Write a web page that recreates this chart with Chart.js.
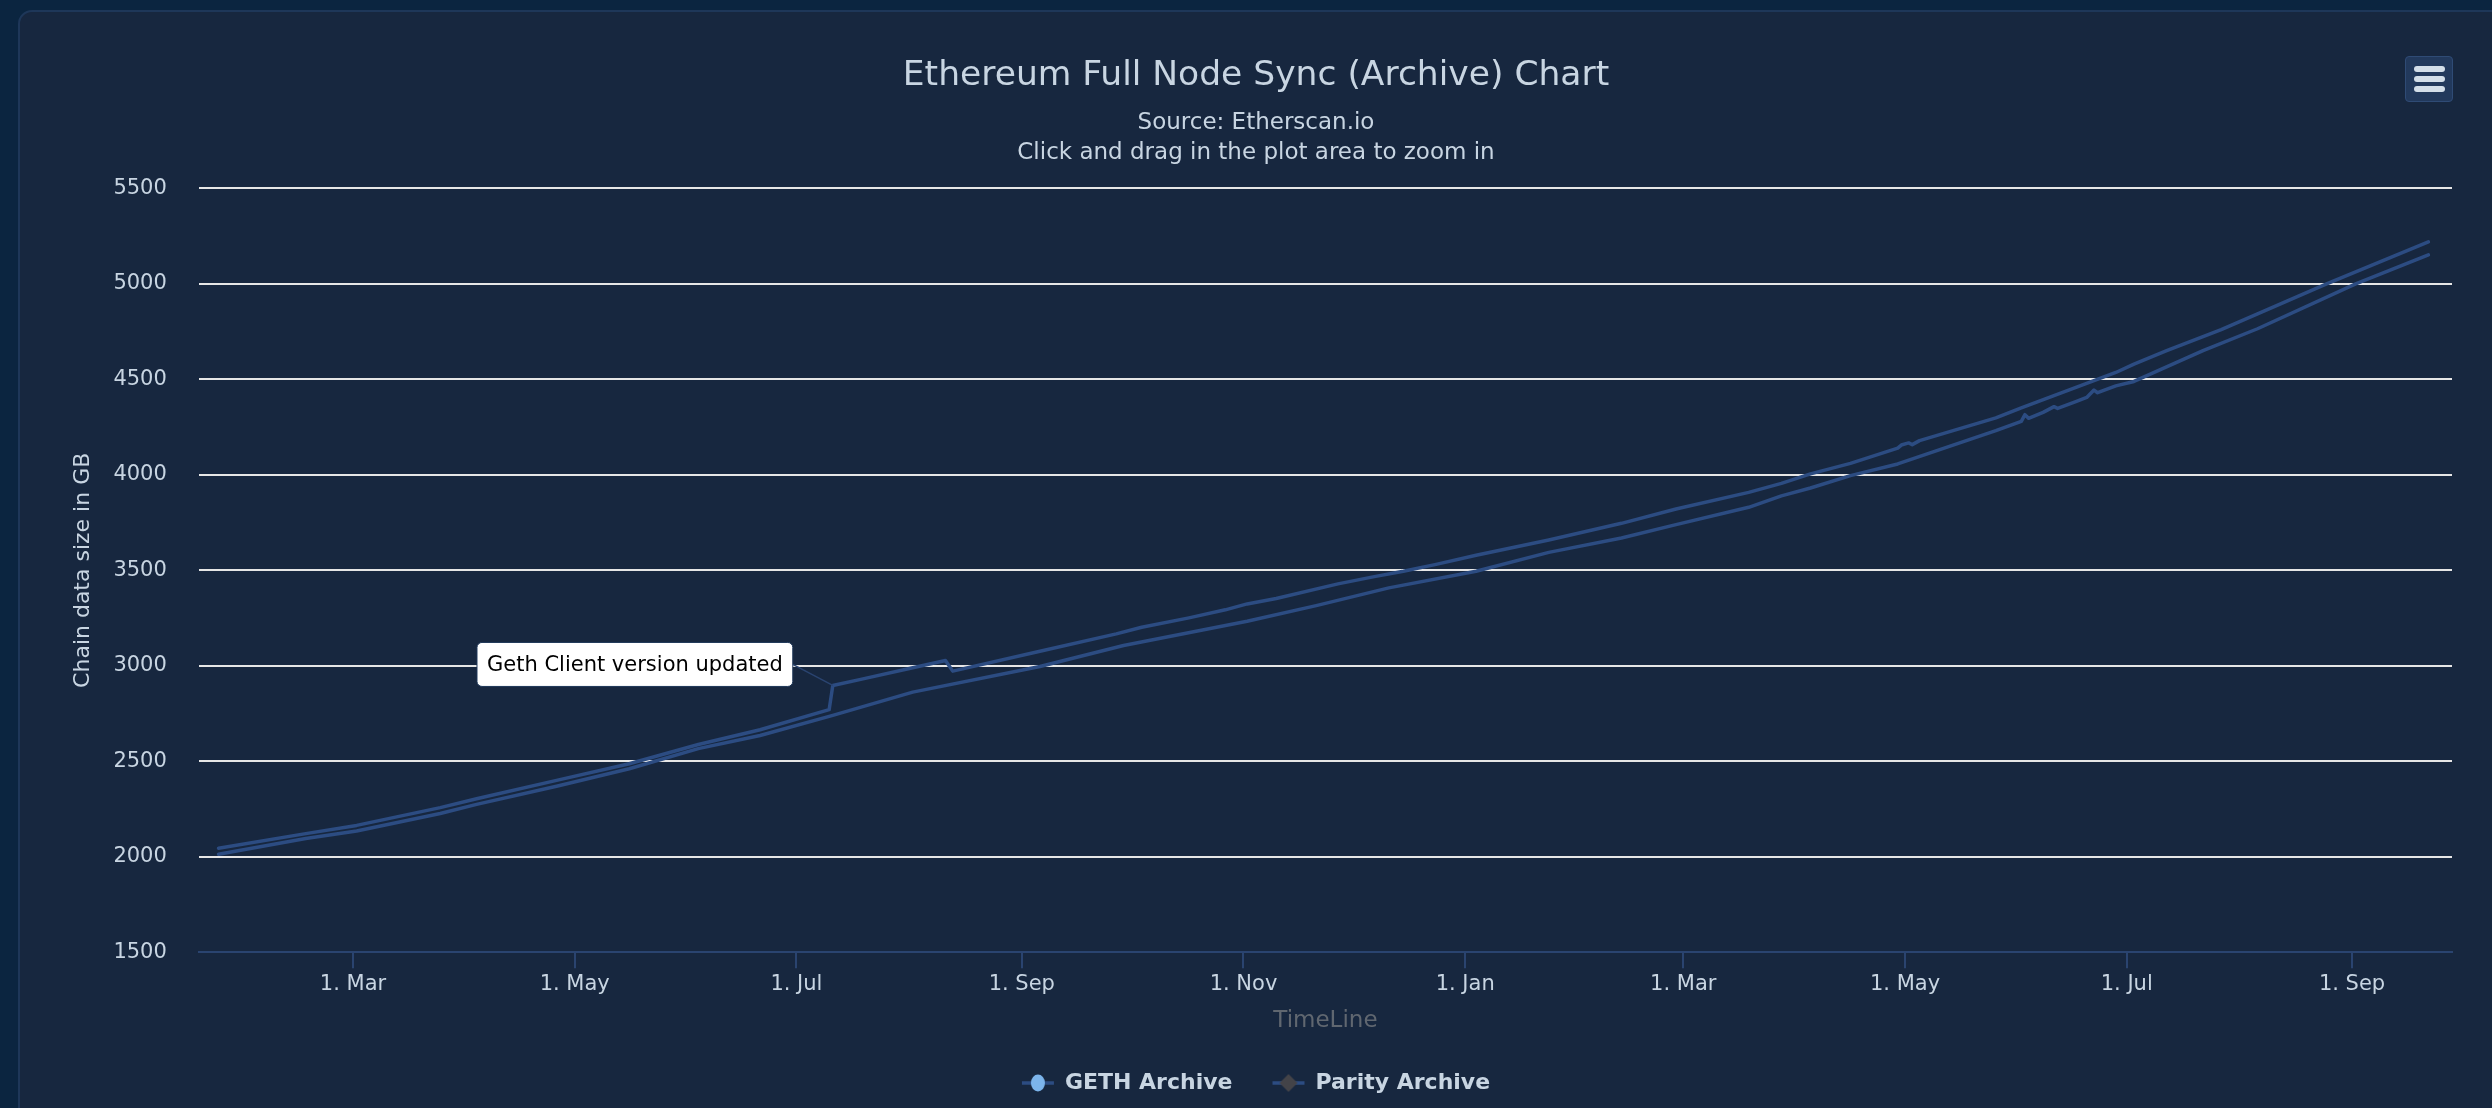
<!DOCTYPE html>
<html><head><meta charset="utf-8">
<script src="https://cdn.jsdelivr.net/npm/chart.js@4.4.1/dist/chart.umd.min.js"></script>
<style>
html,body{margin:0;padding:0;width:2492px;height:1108px;overflow:hidden;background:#0b2540;}
#card{position:absolute;left:18px;top:10px;width:2500px;height:1130px;background:#17273f;border:2px solid #1e3759;border-radius:14px;box-sizing:border-box;}
#wrap{position:absolute;left:0;top:0;width:2492px;height:1108px;}
#menu{position:absolute;left:2405px;top:56px;width:48px;height:46px;box-sizing:border-box;background:#22395c;border:1px solid #2f4b75;border-radius:4px;}
#menu span{position:absolute;left:8px;width:31px;height:6px;border-radius:3px;background:#d3dee9;}
</style></head>
<body>
<div id="card"></div>
<div id="wrap"><canvas id="c"></canvas></div>
<div id="menu"><span style="top:9px"></span><span style="top:19px"></span><span style="top:29px"></span></div>
<script>
// ---------- data ----------
const TITLE = 'Ethereum Full Node Sync (Archive) Chart';
const SUBTITLE = ['Source: Etherscan.io', 'Click and drag in the plot area to zoom in'];
const Y_TITLE = 'Chain data size in GB';
const X_TITLE = 'TimeLine';
const SERIES_NAMES = ['GETH Archive', 'Parity Archive'];
const MONTHS = ['Jan','Feb','Mar','Apr','May','Jun','Jul','Aug','Sep','Oct','Nov','Dec'];
const TICK_DATES = ['2019-03-01','2019-05-01','2019-07-01','2019-09-01','2019-11-01','2020-01-01','2020-03-01','2020-05-01','2020-07-01','2020-09-01'];
const X_MIN = '2019-01-17T14:00:00Z';
const X_MAX = '2020-09-28T12:00:00Z';
const Y_MIN = 1500, Y_MAX = 5500, Y_STEP = 500;

const GETH_DATES = ['2019-01-23','2019-02-16','2019-03-02','2019-03-25','2019-04-04','2019-04-26','2019-05-16','2019-06-04','2019-06-21','2019-07-10','2019-07-11','2019-07-19','2019-08-02','2019-08-11','2019-08-13','2019-09-06','2019-09-27','2019-10-04','2019-10-17','2019-10-27','2019-11-02','2019-11-10','2019-11-27','2019-12-07','2019-12-15','2019-12-24','2020-01-04','2020-01-24','2020-02-13','2020-02-28','2020-03-19','2020-03-28','2020-04-05','2020-04-16','2020-04-29','2020-04-30','2020-05-02','2020-05-03','2020-05-05','2020-05-26','2020-06-02','2020-06-22','2020-06-28','2020-07-03','2020-07-12','2020-07-27','2020-08-06','2020-08-25','2020-09-22'];
const GETH_SIZES = [2044,2121,2164,2257,2304,2400,2487,2588,2665,2770,2897,2930,2990,3028,2972,3076,3167,3202,3251,3293,3324,3352,3429,3467,3495,3531,3579,3659,3746,3821,3908,3955,4005,4060,4140,4156,4167,4158,4179,4298,4350,4493,4536,4580,4650,4760,4843,5000,5220];

const PARITY_DATES = ['2019-01-23','2019-02-16','2019-03-02','2019-03-25','2019-04-04','2019-04-26','2019-05-16','2019-06-04','2019-06-21','2019-07-11','2019-08-02','2019-09-06','2019-09-29','2019-11-02','2019-11-21','2019-12-11','2020-01-04','2020-01-24','2020-02-13','2020-02-28','2020-03-19','2020-03-28','2020-04-05','2020-04-16','2020-04-29','2020-05-26','2020-06-02','2020-06-03','2020-06-04','2020-06-08','2020-06-11','2020-06-12','2020-06-17','2020-06-20','2020-06-22','2020-06-23','2020-06-28','2020-07-03','2020-07-22','2020-08-06','2020-09-02','2020-09-22'];
const PARITY_SIZES = [2013,2095,2135,2226,2274,2369,2461,2566,2635,2740,2862,2996,3106,3233,3315,3408,3495,3594,3669,3739,3830,3890,3931,3996,4057,4231,4280,4315,4296,4327,4357,4348,4383,4405,4444,4430,4466,4489,4650,4765,5000,5152];

const NOTE_DATE = '2019-07-11';
const NOTE_TEXT = 'Geth Client version updated';

// ---------- styles ----------
const FONT = '"DejaVu Sans", sans-serif';
const TEXT_COLOR = '#c8d5e2';
const LINE_COLOR = '#2c4c82';
const AXIS_COLOR = '#2a4470';
const GRID_COLOR = '#e6e6e6';
const MARKER_COLORS = ['#7cb5ec', '#434348'];

Chart.defaults.font.family = FONT;

const toTs = s => Date.parse(s.length === 10 ? s + 'T00:00:00Z' : s);
const gethData = GETH_DATES.map((d, i) => ({x: toTs(d), y: GETH_SIZES[i]}));
const parityData = PARITY_DATES.map((d, i) => ({x: toTs(d), y: PARITY_SIZES[i]}));

function legendSymbol(kind, color) {
  const c = document.createElement('canvas');
  c.width = 34; c.height = 20;
  const g = c.getContext('2d');
  g.strokeStyle = LINE_COLOR; g.lineWidth = 3.5;
  g.beginPath(); g.moveTo(1, 10); g.lineTo(33, 10); g.stroke();
  g.fillStyle = color;
  g.beginPath();
  if (kind === 'circle') { g.ellipse(17, 10, 7, 8.5, 0, 0, Math.PI * 2); }
  else { g.moveTo(17, 1); g.lineTo(26, 10); g.lineTo(17, 19); g.lineTo(8, 10); g.closePath(); }
  g.fill();
  return c;
}
const SYMBOLS = [legendSymbol('circle', MARKER_COLORS[0]), legendSymbol('diamond', MARKER_COLORS[1])];

const notePlugin = {
  id: 'gethNote',
  afterDatasetsDraw(chart) {
    const meta = chart.getDatasetMeta(0);
    const pt = meta.data[GETH_DATES.indexOf(NOTE_DATE)];
    if (!pt) return;
    const ctx = chart.ctx;
    ctx.save();
    ctx.font = '21px ' + FONT;
    const tw = ctx.measureText(NOTE_TEXT).width;
    const bw = tw + 20, bh = 44;
    const bx = pt.x - 40 - bw, by = pt.y - 21 - bh / 2;
    ctx.strokeStyle = AXIS_COLOR; ctx.lineWidth = 1.5;
    ctx.beginPath(); ctx.moveTo(bx + bw, by + bh / 2); ctx.lineTo(pt.x, pt.y); ctx.stroke();
    ctx.beginPath(); ctx.roundRect(bx, by, bw, bh, 5);
    ctx.fillStyle = '#ffffff'; ctx.fill();
    ctx.strokeStyle = '#1d3658'; ctx.lineWidth = 1; ctx.stroke();
    ctx.fillStyle = '#000000'; ctx.textBaseline = 'middle'; ctx.textAlign = 'left';
    ctx.fillText(NOTE_TEXT, bx + 10, by + bh / 2 + 1);
    ctx.restore();
  }
};

new Chart(document.getElementById('c'), {
  type: 'line',
  data: {
    datasets: [
      {label: SERIES_NAMES[0], data: gethData, borderColor: LINE_COLOR, backgroundColor: MARKER_COLORS[0], borderWidth: 3.5, pointRadius: 0, tension: 0, fill: false, borderJoinStyle: 'round', borderCapStyle: 'round'},
      {label: SERIES_NAMES[1], data: parityData, borderColor: LINE_COLOR, backgroundColor: MARKER_COLORS[1], borderWidth: 3.5, pointRadius: 0, tension: 0, fill: false, borderJoinStyle: 'round', borderCapStyle: 'round'}
    ]
  },
  options: {
    responsive: true, maintainAspectRatio: false, animation: false, devicePixelRatio: 1,
    events: [],
    layout: {padding: {top: 0, left: 60, right: 40, bottom: 4}},
    plugins: {
      title: {display: true, text: TITLE, color: TEXT_COLOR, font: {size: 34.5, weight: 'normal', lineHeight: 1.2}, padding: {top: 55, bottom: 8}},
      subtitle: {display: true, text: SUBTITLE, color: TEXT_COLOR, font: {size: 23, weight: 'normal', lineHeight: 30 / 23}, padding: {top: 4, bottom: 20}},
      legend: {
        position: 'bottom',
        labels: {
          usePointStyle: true, pointStyleWidth: 32, padding: 40, color: TEXT_COLOR,
          font: {size: 22, weight: 'bold'},
          generateLabels: chart => chart.data.datasets.map((ds, i) => ({
            text: ds.label, datasetIndex: i, hidden: false, pointStyle: SYMBOLS[i],
            fillStyle: MARKER_COLORS[i], strokeStyle: LINE_COLOR, lineWidth: 0, fontColor: TEXT_COLOR
          }))
        }
      },
      tooltip: {enabled: false}
    },
    scales: {
      x: {
        type: 'linear', min: toTs(X_MIN), max: toTs(X_MAX),
        afterBuildTicks: scale => { scale.ticks = TICK_DATES.map(d => ({value: toTs(d)})); },
        ticks: {autoSkip: false, maxRotation: 0, padding: 4, color: TEXT_COLOR, font: {size: 21},
          callback: v => { const d = new Date(v); return d.getUTCDate() + '. ' + MONTHS[d.getUTCMonth()]; }},
        grid: {drawOnChartArea: false, drawTicks: true, tickLength: 16, color: AXIS_COLOR, lineWidth: 2},
        border: {display: true, color: AXIS_COLOR, width: 2},
        title: {display: true, text: X_TITLE, color: '#606770', font: {size: 23}, padding: {top: 6, bottom: -3}}
      },
      y: {
        min: Y_MIN, max: Y_MAX,
        ticks: {stepSize: Y_STEP, padding: 0, color: TEXT_COLOR, font: {size: 21}, callback: v => String(v)},
        grid: {color: c => (c.tick && c.tick.value === Y_MIN) ? 'rgba(0,0,0,0)' : GRID_COLOR, lineWidth: 2, drawTicks: true, tickLength: 32, tickColor: 'rgba(0,0,0,0)'},
        border: {display: false},
        title: {display: true, text: Y_TITLE, color: TEXT_COLOR, font: {size: 22}, padding: {top: 10, bottom: 17}}
      }
    }
  },
  plugins: [notePlugin]
});
</script>
</body></html>
